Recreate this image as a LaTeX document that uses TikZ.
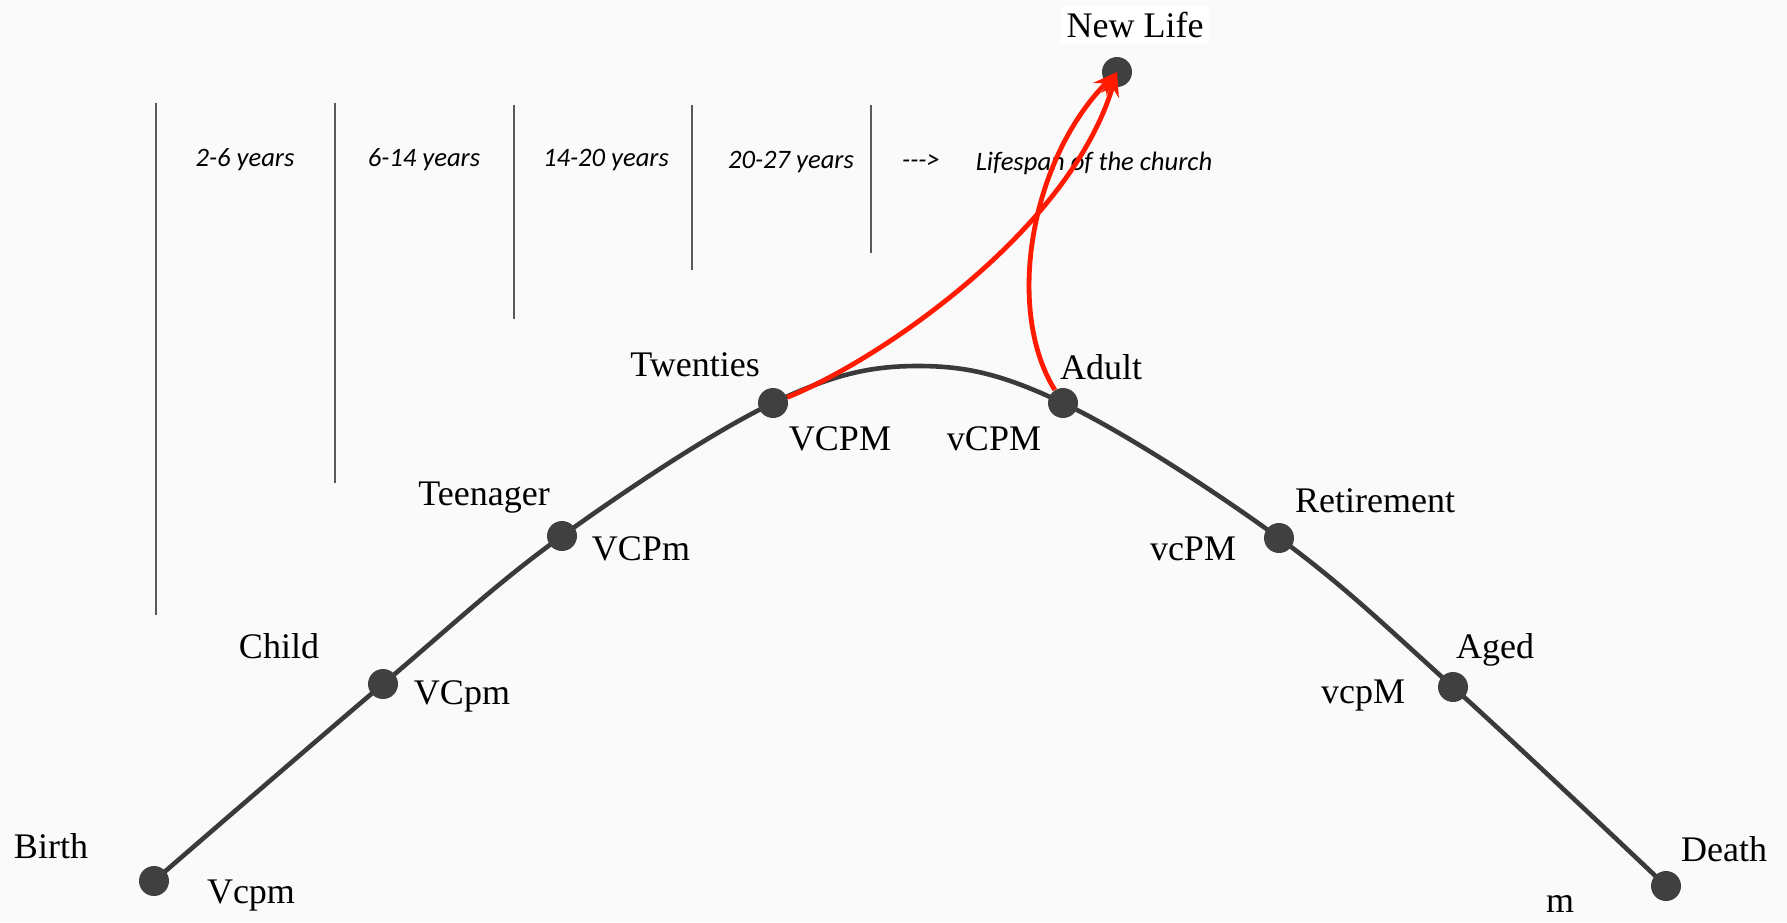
\documentclass[tikz,border=0pt]{standalone}
\usepackage{fontspec}
\setmainfont{Liberation Serif}
\newfontfamily\yearfont{Carlito}
\usetikzlibrary{arrows.meta}
\definecolor{bg}{HTML}{FAFAFA}
\definecolor{curvegray}{HTML}{3A3A3A}
\definecolor{dotgray}{HTML}{404040}
\definecolor{rulegray}{HTML}{5A5A5A}
\definecolor{arrowred}{HTML}{FF1A00}

\begin{document}
\begin{tikzpicture}[x=0.5pt,y=-0.5pt,
  stage/.style={circle,fill=dotgray,inner sep=0pt,minimum size=15pt},
  lbl/.style={font=\fontsize{18}{20}\selectfont,inner sep=0pt,text=black},
  span/.style={font=\yearfont\itshape\fontsize{13.3}{15}\selectfont,inner sep=0pt,text=black},
  divider/.style={draw=rulegray,line width=0.9pt},
  life/.style={draw=curvegray,line width=2.3pt},
  branch/.style={draw=arrowred,line width=2.4pt,-{Stealth[length=12pt,width=9pt]}}]

% canvas
\fill[bg] (0,0) rectangle (1787,922);
\useasboundingbox (0,0) rectangle (1787,922);

% age dividers
\draw[divider] (156,103) -- (156,615);
\draw[divider] (335,103) -- (335,483);
\draw[divider] (514,105) -- (514,319);
\draw[divider] (692,105) -- (692,270);
\draw[divider] (871,105) -- (871,253);

% age spans
\node[span] (s1) at (245,160) {2-6 years};
\node[span] (s2) at (424,160) {6-14 years};
\node[span] (s3) at (606,160) {14-20 years};
\node[span] (s4) at (791,162) {20-27 years};
\node[span] (s5) at (921,162) {{-}{-}{-}>};
\node[span] (s6) at (1094,163) {Lifespan of the church};

% stage positions
\coordinate (pb) at (154,881);
\coordinate (pc) at (383,684);
\coordinate (pt) at (562,536);
\coordinate (pw) at (773,403);
\coordinate (ptop) at (918,366);
\coordinate (pa) at (1063,403);
\coordinate (pr) at (1279,538);
\coordinate (pg) at (1453,687);
\coordinate (pd) at (1666,886);

% life curve
\draw[life] plot[smooth,tension=0.6] coordinates {(pb) (pc) (pt) (pw) (ptop) (pa) (pr) (pg) (pd)};

% stages
\node[stage] (birth) at (pb) {};
\node[stage] (child) at (pc) {};
\node[stage] (teen) at (pt) {};
\node[stage] (tw) at (pw) {};
\node[stage] (adult) at (pa) {};
\node[stage] (ret) at (pr) {};
\node[stage] (aged) at (pg) {};
\node[stage] (death) at (pd) {};
\node[stage] (nl) at (1117,72) {};

% stage names and codes
\node[lbl] (lb1) at (51,846) {Birth};
\node[lbl] (lc1) at (251,896) {Vcpm};
\node[lbl] (lb2) at (279,646) {Child};
\node[lbl] (lc2) at (462,696) {VCpm};
\node[lbl] (lb3) at (484,498) {Teenager};
\node[lbl] (lc3) at (641,549) {VCPm};
\node[lbl] (lb4) at (695,365) {Twenties};
\node[lbl] (lc4) at (840,439) {VCPM};
\node[lbl] (lc5) at (994,439) {vCPM};
\node[lbl] (lb5) at (1101,367) {Adult};
\node[lbl] (lb6) at (1375,501) {Retirement};
\node[lbl] (lc6) at (1193,549) {vcPM};
\node[lbl] (lb7) at (1495,650) {Aged};
\node[lbl] (lc7) at (1363,696) {vcpM};
\node[lbl] (lb8) at (1724,849) {Death};
\node[lbl] (lc8) at (1560,904) {m};
\node[lbl,fill=white,inner sep=3pt] (lnl) at (1135,25) {New Life};

% branches to new life
\draw[branch] (tw) .. controls (880,360) and (1070,230) .. (nl.center);
\draw[branch] (adult) .. controls (1005,310) and (1030,160) .. (nl.center);
\end{tikzpicture}
\end{document}
